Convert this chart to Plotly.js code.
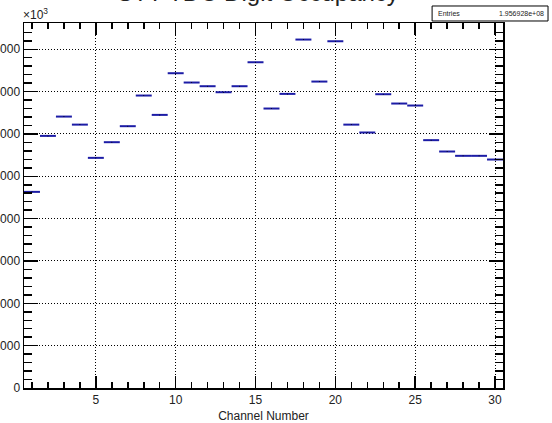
<!DOCTYPE html>
<html><head><meta charset="utf-8">
<script src="https://cdn.plot.ly/plotly-3.0.1.min.js"></script>
<style>html,body{margin:0;padding:0;background:#fff;overflow:hidden}#chart{width:552px;height:423px;}</style>
</head><body><div id="chart"></div>
<script>
// Channel numbers (bin centres) and digit occupancy in units of 10^3 entries
const channels = [1,2,3,4,5,6,7,8,9,10,11,12,13,14,15,16,17,18,19,20,21,22,23,24,25,26,27,28,29,30];
const occupancyK = [4632,5954,6410,6220,5435,5805,6183,6907,6450,7434,
                    7214,7127,6985,7127,7693,6600,6946,8229,7237,8189,
                    6220,6034,6938,6718,6671,5853,5585,5483,5483,5396];
const binWidth = channels.map(() => 1);
const yTickVals = [0,1000,2000,3000,4000,5000,6000,7000,8000];
const xTickVals = [5,10,15,20,25,30];
const titleText = "STT TDC Digit Occupancy";
const xTitle = "Channel Number";
const entriesLabel = "Entries";
const entriesValue = "1.956928e+08";
const scaleLabel = "×10<sup>3</sup>";

const font = "Liberation Sans, Arial, Helvetica, sans-serif";
const ink = "#222";

const trace = {
  type: "scatter", mode: "markers",
  x: channels, y: occupancyK,
  marker: {size: 1, color: "#000"},
  error_x: {type: "data", array: binWidth.map(w => w/2), color: "#1c1ca6", thickness: 2, width: 0},
  error_y: {type: "data", array: occupancyK.map(v => Math.sqrt(v*1000)/1000), color: "#000", thickness: 1, width: 0},
  hoverinfo: "x+y", showlegend: false
};

const layout = {
  width: 552, height: 423,
  margin: {l: 24, r: 49, t: 23, b: 35, pad: 0},
  paper_bgcolor: "#fff", plot_bgcolor: "#fff",
  font: {family: font, size: 12, color: ink},
  showlegend: false,
  xaxis: {
    range: [0.5, 30.5], tickmode: "array", tickvals: xTickVals,
    ticks: "inside", ticklen: 12, tickwidth: 1.5, tickcolor: "#000",
    showline: true, linecolor: "#000", linewidth: 1.5, mirror: "ticks",
    showgrid: true, gridcolor: "#000", griddash: "1px,2px", gridwidth: 1,
    zeroline: false,
    tickfont: {size: 12, color: ink},
    minor: {dtick: 1, ticks: "inside", ticklen: 6, tickwidth: 1.5, tickcolor: "#000", showgrid: false},
    title: {text: xTitle, font: {size: 12, color: ink}, standoff: 6}
  },
  yaxis: {
    range: [0, 8620], tickmode: "array", tickvals: yTickVals, tickformat: "d",
    ticks: "inside", ticklen: 14, tickwidth: 1.5, tickcolor: "#000",
    showline: true, linecolor: "#000", linewidth: 1.5, mirror: "ticks",
    showgrid: true, gridcolor: "#000", griddash: "1px,2px", gridwidth: 1,
    zeroline: false,
    tickfont: {size: 12, color: ink},
    minor: {dtick: 200, ticks: "inside", ticklen: 8, tickwidth: 1.5, tickcolor: "#000", showgrid: false}
  },
  shapes: [{
    type: "rect", xref: "paper", yref: "paper",
    x0: 0.852, x1: 1.094, y0: 1.0055, y1: 1.0466,
    line: {color: "#000", width: 1}, fillcolor: "#fff", layer: "above"
  }],
  annotations: [
    {text: titleText, xref: "paper", yref: "paper", x: 0.4875, y: 1, xanchor: "center", yanchor: "bottom",
     yshift: 15, showarrow: false, font: {size: 24, color: ink, family: font}},
    {text: entriesLabel, xref: "paper", yref: "paper", x: 0.860, y: 1.026, xanchor: "left", yanchor: "middle",
     showarrow: false, font: {size: 7, color: ink, family: font}},
    {text: entriesValue, xref: "paper", yref: "paper", x: 1.090, y: 1.026, xanchor: "right", yanchor: "middle",
     showarrow: false, font: {size: 7, color: ink, family: font}},
    {text: scaleLabel, xref: "paper", yref: "paper", x: -0.006, y: 1.025, xanchor: "left", yanchor: "middle",
     showarrow: false, font: {size: 12, color: ink, family: font}}
  ]
};

Plotly.newPlot("chart", [trace], layout, {staticPlot: true, displayModeBar: false});
</script>
</body></html>
